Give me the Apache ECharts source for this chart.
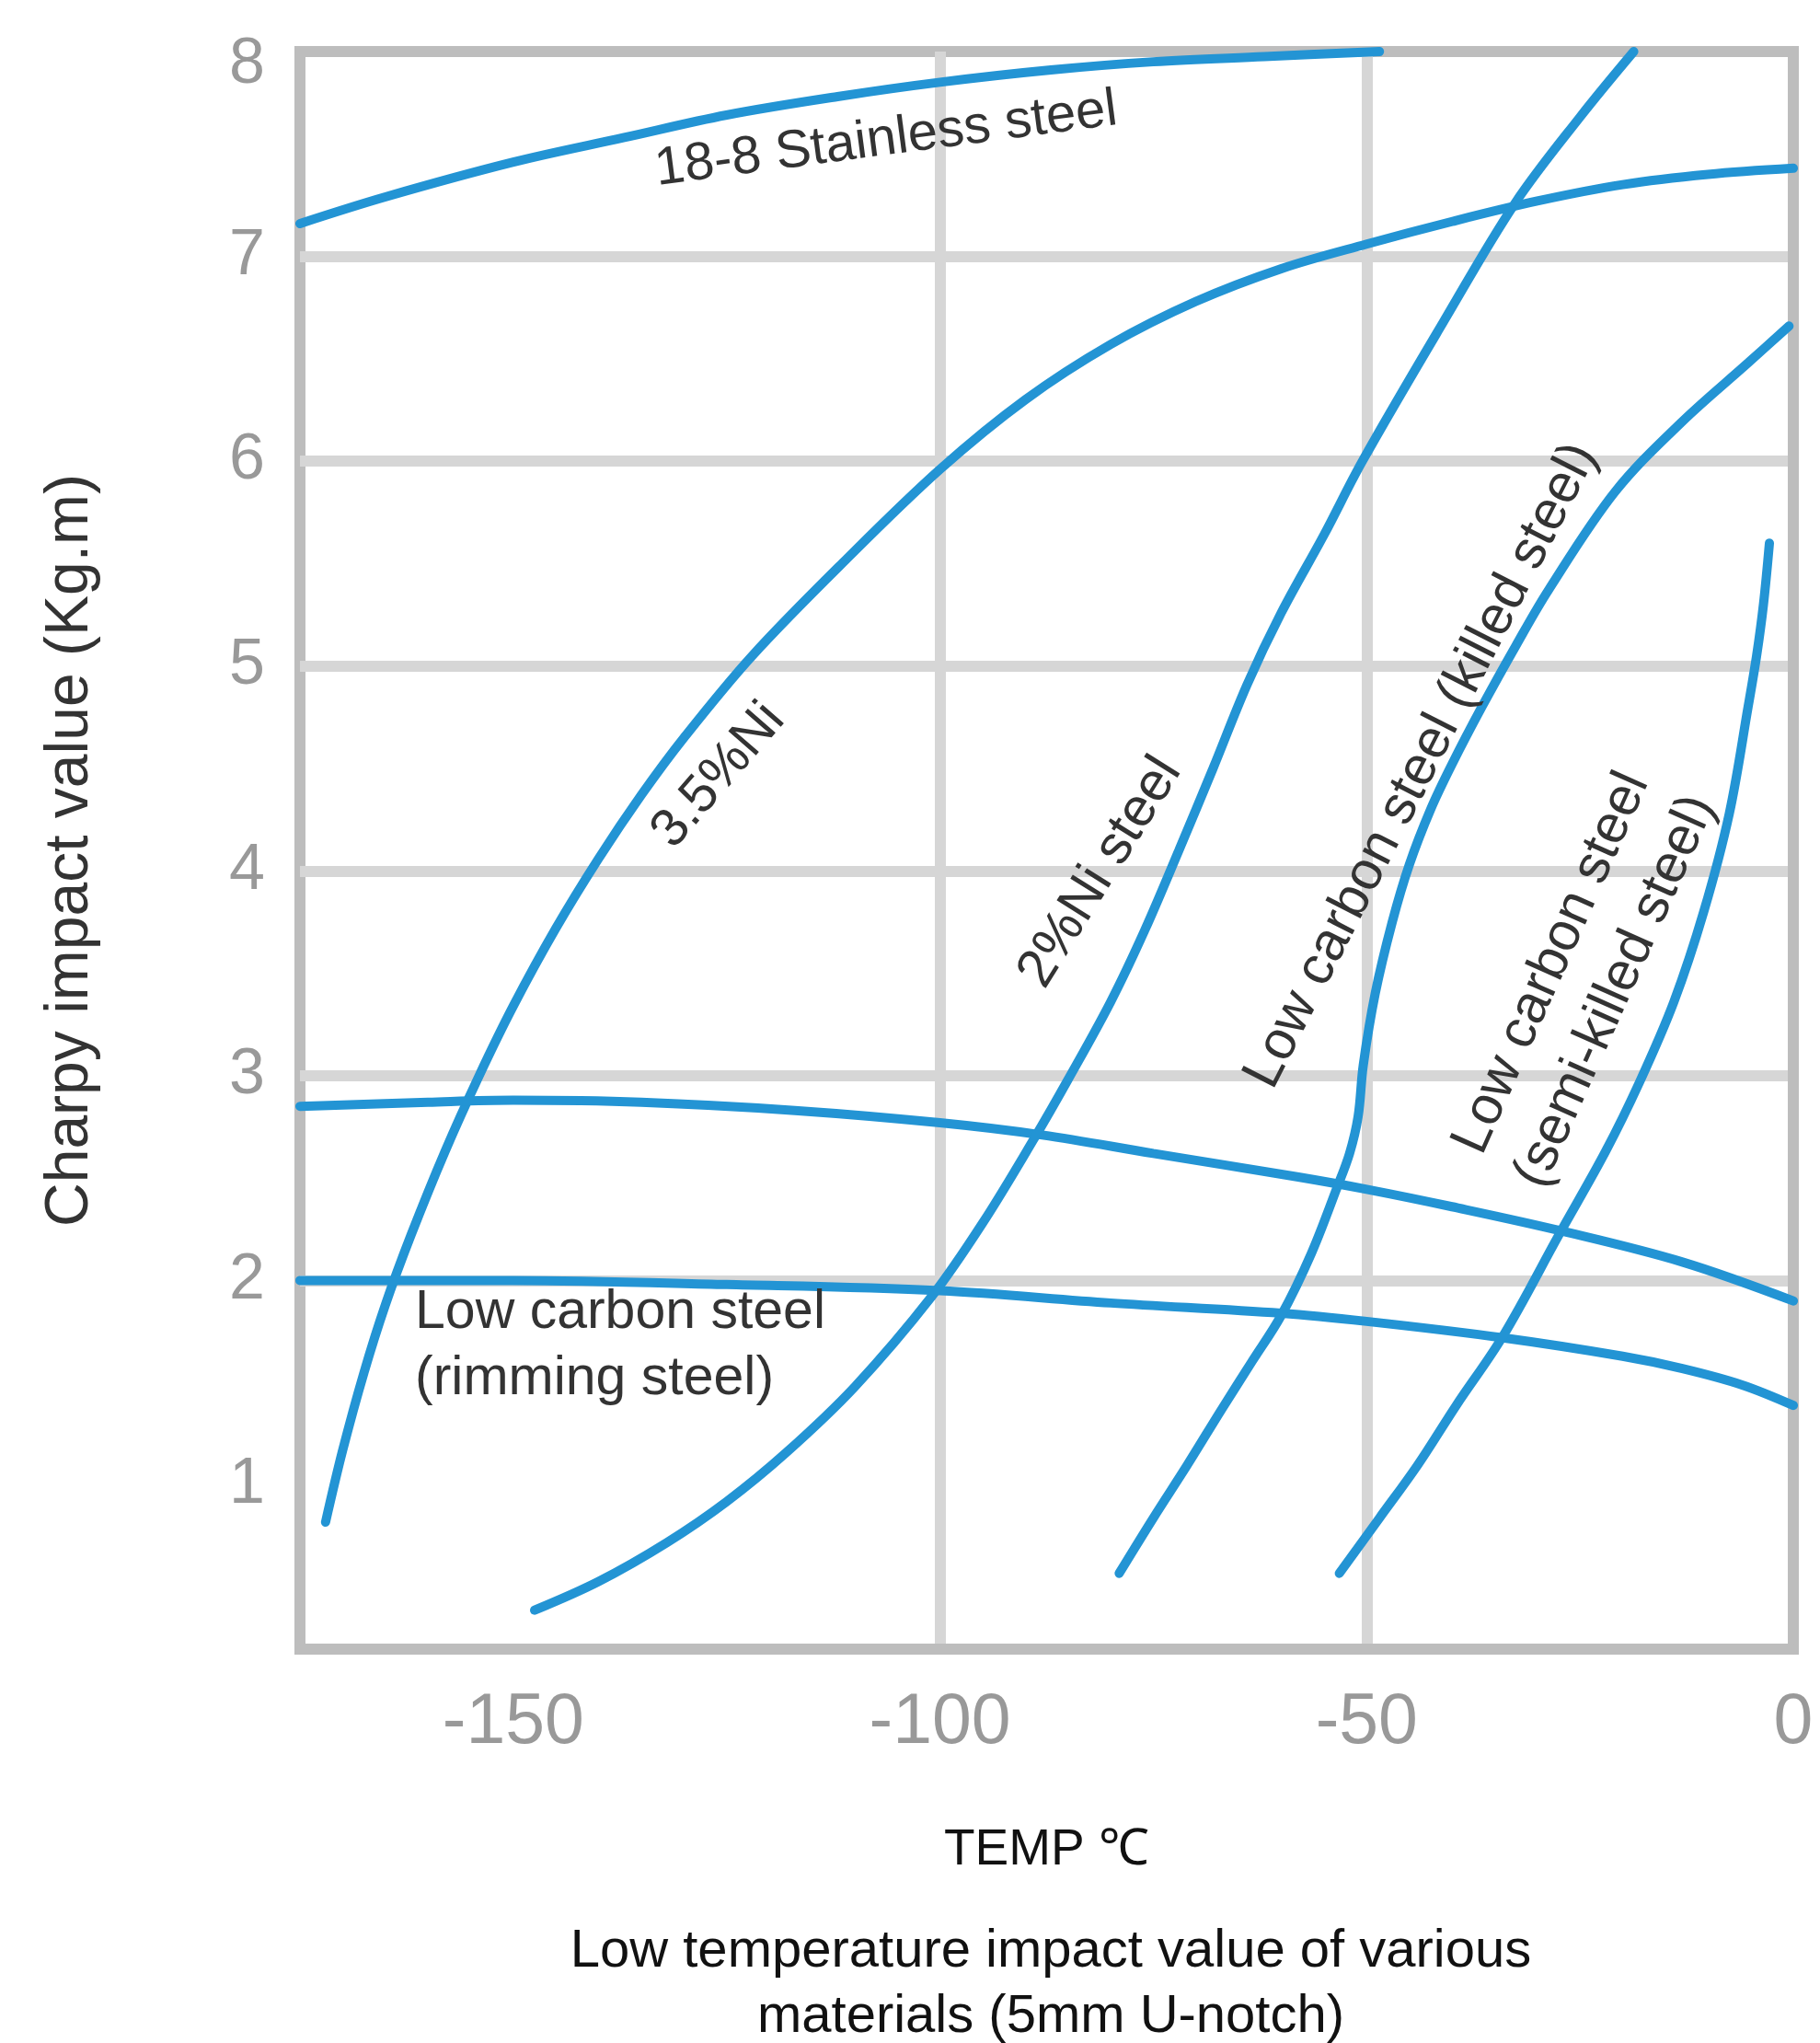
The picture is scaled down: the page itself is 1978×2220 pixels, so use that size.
<!DOCTYPE html>
<html>
<head>
<meta charset="utf-8">
<script src="https://cdn.jsdelivr.net/npm/echarts@6/dist/echarts.min.js"></script>
<style>
  html, body { margin: 0; padding: 0; background: #ffffff; }
  #chart { width: 1978px; height: 2220px; }
</style>
</head>
<body>
<div id="chart"></div>
<script>
// ---- Data (temperature in °C, Charpy impact value in kg·m) ----
const xTicks = [-150, -100, -50, 0];
const yTicks = [1, 2, 3, 4, 5, 6, 7, 8];

const stainless188 = [[-175,7.16],[-165,7.29],[-150,7.46],[-137,7.58],[-125,7.69],[-112,7.78],[-100,7.85],[-87,7.91],[-75,7.95],[-62,7.975],[-48.5,8.0]];
const ni35 = [[-172,0.82],[-170,1.17],[-167.5,1.55],[-165,1.88],[-162,2.22],[-158,2.63],[-154,3.0],[-150,3.34],[-145,3.72],[-140,4.06],[-135,4.37],[-130,4.65],[-122,5.05],[-111,5.52],[-100,5.96],[-90,6.3],[-80,6.57],[-70,6.78],[-60,6.94],[-50,7.06],[-40,7.17],[-30,7.27],[-20,7.35],[-10,7.4],[0,7.43]];
const rimmingUpper = [[-175,2.85],[-160,2.87],[-150,2.88],[-135,2.87],[-117,2.83],[-100,2.77],[-88,2.71],[-75,2.62],[-58,2.505],[-50,2.445],[-40,2.36],[-27,2.24],[-13,2.09],[0,1.9]];
const rimmingLower = [[-175,2.0],[-150,2.0],[-125,1.98],[-100,1.95],[-80,1.89],[-60,1.84],[-50,1.8],[-34,1.72],[-20,1.63],[-13,1.57],[-6,1.49],[0,1.39]];
const ni2 = [[-147.5,0.39],[-140,0.53],[-132,0.72],[-125,0.92],[-118,1.16],[-110,1.48],[-101,1.92],[-95,2.28],[-89,2.69],[-85,2.98],[-80,3.36],[-76,3.71],[-72,4.1],[-68,4.5],[-64,4.91],[-60,5.26],[-55,5.64],[-50.5,6.0],[-41,6.68],[-32.6,7.26],[-25,7.68],[-18.7,8.0]];
const killed = [[-79,0.57],[-75,0.84],[-71,1.1],[-67,1.37],[-63.5,1.6],[-60,1.83],[-56.5,2.13],[-53.5,2.45],[-52,2.62],[-51,2.8],[-50.4,3.05],[-49,3.4],[-47,3.75],[-45,4.03],[-42.5,4.3],[-40,4.52],[-36.5,4.8],[-32.5,5.1],[-28.7,5.37],[-20.9,5.85],[-13.1,6.19],[-5.3,6.48],[-0.5,6.66]];
const semiKilled = [[-53.2,0.57],[-48.5,0.84],[-44,1.1],[-39.5,1.39],[-34,1.73],[-27.5,2.22],[-22,2.63],[-18,2.97],[-14,3.36],[-10.5,3.8],[-7.5,4.28],[-5.3,4.8],[-4.3,5.05],[-3.5,5.3],[-2.8,5.6]];

const seriesNames = ['18-8 Stainless steel', '3.5%Ni', 'Low carbon steel (rimming steel) upper', 'Low carbon steel (rimming steel)', '2%Ni steel', 'Low carbon steel (killed steel)', 'Low carbon steel (semi-killed steel)'];
const seriesData = [stainless188, ni35, rimmingUpper, rimmingLower, ni2, killed, semiKilled];

const FONT = '"Liberation Sans", Arial, Helvetica, sans-serif';
const BLUE = '#2394d4';
const TEXT = '#333333';

const chart = echarts.init(document.getElementById('chart'), null, { renderer: 'canvas' });

const option = {
  animation: false,
  backgroundColor: '#ffffff',
  title: {
    text: 'Low temperature impact value of various\nmaterials (5mm U-notch)',
    left: 1137,
    top: 2080,
    textAlign: 'center',
    textStyle: { fontFamily: FONT, fontSize: 58, fontWeight: 'normal', color: '#111111', lineHeight: 71 }
  },
  grid: {
    left: 326, top: 56, right: 29, bottom: 428,
    show: true, borderColor: '#bdbdbd', borderWidth: 12, backgroundColor: 'transparent'
  },
  xAxis: {
    type: 'value', min: -175, max: 0, splitNumber: 4,
    name: 'TEMP ℃', nameLocation: 'middle', nameGap: 191,
    nameTextStyle: { fontFamily: FONT, fontSize: 55, color: '#111111' },
    axisLine: { show: true, lineStyle: { color: '#bdbdbd', width: 12 } },
    axisTick: { show: false, customValues: xTicks },
    axisLabel: {
      customValues: xTicks,
      margin: 42, fontFamily: FONT, fontSize: 77, color: '#999999',
      formatter: v => xTicks.includes(Math.round(v)) && Math.abs(v - Math.round(v)) < 1e-6 ? String(Math.round(v)) : ''
    },
    splitLine: { show: true, showMinLine: false, showMaxLine: false, lineStyle: { color: '#d6d6d6', width: 12 } }
  },
  yAxis: {
    type: 'value', min: 0.2, max: 8, splitNumber: 8,
    name: 'Charpy impact value (Kg.m)', nameLocation: 'middle', nameRotate: 90, nameGap: 216,
    nameTextStyle: { fontFamily: FONT, fontSize: 66, color: TEXT },
    axisLine: { show: true, lineStyle: { color: '#bdbdbd', width: 12 } },
    axisTick: { show: false, customValues: yTicks },
    axisLabel: {
      customValues: yTicks,
      margin: 38, fontFamily: FONT, fontSize: 70, color: '#999999',
      formatter: v => {
        const r = Math.round(v);
        if (Math.abs(v - r) > 1e-6 || !yTicks.includes(r)) return '';
        return r === 8 ? '{t|8}' : String(r);
      },
      rich: { t: { fontFamily: FONT, fontSize: 70, color: '#999999', padding: [30, 0, 0, 0] } }
    },
    splitLine: { show: true, showMinLine: false, showMaxLine: false, lineStyle: { color: '#d6d6d6', width: 12 } }
  },
  series: seriesData.map((d, i) => ({
    name: seriesNames[i],
    type: 'line',
    data: d,
    smooth: 0.35,
    showSymbol: false,
    symbol: 'none',
    lineStyle: { color: BLUE, width: 10, cap: 'round' },
    z: 5
  })),
  graphic: [
    { type: 'text', x: 963, y: 152, rotation: 7.5 * Math.PI / 180, z: 100,
      style: { text: '18-8 Stainless steel', fontFamily: FONT, fontSize: 58, fill: TEXT, align: 'center', verticalAlign: 'middle' } },
    { type: 'text', x: 781, y: 843, rotation: 49 * Math.PI / 180, z: 100,
      style: { text: '3.5%Ni', fontFamily: FONT, fontSize: 58, fill: TEXT, align: 'center', verticalAlign: 'middle' } },
    { type: 'text', x: 1196, y: 948, rotation: 58 * Math.PI / 180, z: 100,
      style: { text: '2%Ni steel', fontFamily: FONT, fontSize: 59, fill: TEXT, align: 'center', verticalAlign: 'middle' } },
    { type: 'text', x: 1545, y: 832, rotation: 63 * Math.PI / 180, z: 100,
      style: { text: 'Low carbon steel (killed steel)', fontFamily: FONT, fontSize: 59, fill: TEXT, align: 'center', verticalAlign: 'middle' } },
    { type: 'text', x: 1721, y: 1062, rotation: 66 * Math.PI / 180, z: 100,
      style: { text: 'Low carbon steel\n(semi-killed steel)', fontFamily: FONT, fontSize: 59, lineHeight: 76, fill: TEXT, align: 'center', verticalAlign: 'middle' } },
    { type: 'text', x: 451, y: 1463, z: 100,
      style: { text: 'Low carbon steel\n(rimming steel)', fontFamily: FONT, fontSize: 59, lineHeight: 72, fill: TEXT, align: 'left', verticalAlign: 'middle' } }
  ]
};

chart.setOption(option);
</script>
</body>
</html>
